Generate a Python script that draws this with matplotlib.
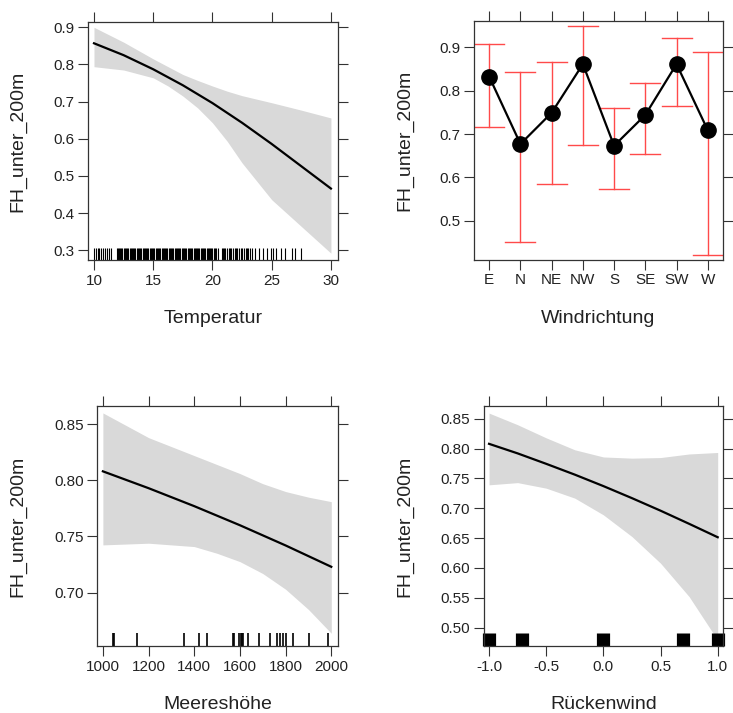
import numpy as np
import matplotlib
matplotlib.use('Agg')
import matplotlib.pyplot as plt
import matplotlib.transforms as mtransforms
from matplotlib.ticker import FormatStrFormatter

plt.rcParams['font.family'] = ['Liberation Sans', 'DejaVu Sans']

# Temperatur effect
temp_x = [10, 12.5, 15, 17.5, 20, 22.5, 25, 27.5, 30]
temp_fit = [0.857, 0.825, 0.787, 0.744, 0.696, 0.643, 0.586, 0.526, 0.466]
temp_band_x = [10, 12.5, 15, 16.25, 17.5, 18.75, 20, 21.25, 22.5, 25, 27.5, 30]
temp_upper = [0.900, 0.860, 0.815, 0.794, 0.773, 0.757, 0.742, 0.728, 0.716,
              0.697, 0.677, 0.656]
temp_lower = [0.794, 0.785, 0.764, 0.742, 0.715, 0.683, 0.643, 0.593, 0.535,
              0.436, 0.364, 0.292]
temp_rug = [10.0, 10.15, 10.3, 10.45, 10.6, 10.8, 10.95, 11.1, 11.3, 11.45,
            11.9, 12.0, 12.1, 12.2, 12.3, 12.4, 12.5, 12.6, 12.7, 12.8, 12.9,
            13.0, 13.1, 13.2, 13.3, 13.4, 13.5, 13.6, 13.7, 13.8, 13.9,
            14.0, 14.1, 14.2, 14.3, 14.4, 14.5, 14.6, 14.7, 14.8, 14.9,
            15.0, 15.1, 15.2, 15.3, 15.4, 15.5, 15.6, 15.7, 15.8, 15.9,
            16.0, 16.1, 16.2, 16.3, 16.4, 16.5, 16.6, 16.7, 16.8, 16.9,
            17.0, 17.1, 17.2, 17.3, 17.4, 17.5, 17.6, 17.7, 17.8, 17.9,
            18.0, 18.1, 18.2, 18.3, 18.4, 18.5, 18.6, 18.7, 18.8, 18.9,
            19.0, 19.1, 19.2, 19.3, 19.4, 19.5, 19.6, 19.7, 19.8, 19.9,
            20.0, 20.1, 20.2, 20.3, 20.45,
            20.8, 20.9, 21.0, 21.1, 21.25, 21.4, 21.5, 21.6, 21.75, 21.9,
            22.0, 22.1, 22.25, 22.4, 22.5, 22.65, 22.8, 22.9, 23.0, 23.15, 23.3,
            23.6, 23.9, 24.3, 24.6, 24.9, 25.1, 25.4, 25.8, 26.1, 26.7, 27.0, 27.5]

# Windrichtung effect
wind_dirs = ['E', 'N', 'NE', 'NW', 'S', 'SE', 'SW', 'W']
wind_fit = [0.832, 0.677, 0.749, 0.861, 0.673, 0.744, 0.861, 0.709]
wind_upper = [0.907, 0.843, 0.866, 0.948, 0.759, 0.818, 0.922, 0.890]
wind_lower = [0.717, 0.452, 0.585, 0.674, 0.573, 0.654, 0.764, 0.422]

# Meereshoehe effect
hoehe_x = [1000, 1200, 1400, 1600, 1800, 2000]
hoehe_fit = [0.808, 0.793, 0.777, 0.760, 0.742, 0.723]
hoehe_band_x = [1000, 1200, 1400, 1500, 1600, 1700, 1800, 1900, 2000]
hoehe_upper = [0.860, 0.838, 0.822, 0.814, 0.806, 0.797, 0.790, 0.785, 0.781]
hoehe_lower = [0.7425, 0.744, 0.741, 0.735, 0.7276, 0.717, 0.703, 0.685, 0.6638]
hoehe_rug = [1045, 1050, 1148, 1353, 1422, 1455, 1570, 1575, 1598, 1603,
             1608, 1613, 1635, 1685, 1730, 1762, 1777, 1789, 1802, 1831,
             1902, 1985]

# Rueckenwind effect
rueck_x = [-1.0, -0.75, -0.5, -0.25, 0.0, 0.25, 0.5, 0.75, 1.0]
rueck_fit = [0.808, 0.792, 0.7745, 0.7564, 0.7372, 0.717, 0.696, 0.674, 0.6515]
rueck_upper = [0.8595, 0.840, 0.818, 0.798, 0.786, 0.784, 0.785, 0.791, 0.7935]
rueck_lower = [0.7393, 0.743, 0.7337, 0.717, 0.689, 0.6526, 0.608, 0.552, 0.479]
rueck_rug = [-1.0, -0.71, 0.0, 0.70, 1.0]

BAND = '#d9d9d9'
EDGE = '#333333'
YLAB = 'FH_unter_200m'

fig = plt.figure(figsize=(7.33, 7.13), dpi=100)


def style_axes(ax, ylab_x, xlab):
    for sp in ax.spines.values():
        sp.set_color(EDGE)
        sp.set_linewidth(0.9)
    ax.tick_params(direction='out', top=True, right=True, labeltop=False,
                   labelright=False, length=7, width=0.8, color=EDGE,
                   labelcolor='#222222', labelsize=11, pad=3)
    ax.set_ylabel(YLAB, fontsize=14, color='#222222')
    ax.yaxis.label.set_va('center')
    ax.yaxis.set_label_coords(ylab_x, 0.5)
    ax.set_xlabel(xlab, fontsize=14, color='#222222')
    ax.xaxis.label.set_va('center')
    ax.xaxis.set_label_coords(0.5, -0.245)


def rug(ax, vals, height, lw):
    trans = mtransforms.blended_transform_factory(ax.transData, ax.transAxes)
    ax.vlines(vals, 0, height, colors='black', linewidth=lw,
              transform=trans, clip_on=False)


# top left
ax1 = fig.add_axes([0.120, 0.635, 0.341, 0.334])
ax1.fill_between(temp_band_x, temp_lower, temp_upper, color=BAND, linewidth=0)
ax1.plot(temp_x, temp_fit, color='black', lw=1.6)
rug(ax1, temp_rug, 0.05, 0.8)
ax1.set_xlim(9.49, 30.59)
ax1.set_ylim(0.273, 0.914)
ax1.set_xticks([10, 15, 20, 25, 30])
ax1.set_yticks([0.3, 0.4, 0.5, 0.6, 0.7, 0.8, 0.9])
style_axes(ax1, -0.28, 'Temperatur')

# top right
ax2 = fig.add_axes([0.647, 0.636, 0.339, 0.335])
pos = np.arange(1, len(wind_dirs) + 1)
for p, lo, hi in zip(pos, wind_lower, wind_upper):
    ax2.plot([p, p], [lo, hi], color='#ff4a4a', lw=1.0)
    ax2.plot([p - 0.48, p + 0.48], [lo, lo], color='#ff4a4a', lw=1.0)
    ax2.plot([p - 0.48, p + 0.48], [hi, hi], color='#ff4a4a', lw=1.0)
ax2.plot(pos, wind_fit, color='black', lw=1.6, marker='o', markersize=11)
ax2.set_xlim(0.52, 8.48)
ax2.set_ylim(0.411, 0.961)
ax2.set_xticks(pos)
ax2.set_xticklabels(wind_dirs)
ax2.set_yticks([0.5, 0.6, 0.7, 0.8, 0.9])
style_axes(ax2, -0.279, 'Windrichtung')

# bottom left
ax3 = fig.add_axes([0.133, 0.094, 0.328, 0.336])
ax3.fill_between(hoehe_band_x, hoehe_lower, hoehe_upper, color=BAND, linewidth=0)
ax3.plot(hoehe_x, hoehe_fit, color='black', lw=1.6)
rug(ax3, hoehe_rug, 0.053, 1.2)
ax3.set_xlim(976.4, 2029)
ax3.set_ylim(0.6525, 0.8658)
ax3.set_xticks([1000, 1200, 1400, 1600, 1800, 2000])
ax3.set_yticks([0.70, 0.75, 0.80, 0.85])
ax3.yaxis.set_major_formatter(FormatStrFormatter('%.2f'))
style_axes(ax3, -0.33, 'Meereshöhe')

# bottom right
ax4 = fig.add_axes([0.660, 0.094, 0.326, 0.336])
ax4.fill_between(rueck_x, rueck_lower, rueck_upper, color=BAND, linewidth=0)
ax4.plot(rueck_x, rueck_fit, color='black', lw=1.6)
rug(ax4, rueck_rug, 0.055, 9.5)
ax4.set_xlim(-1.046, 1.044)
ax4.set_ylim(0.4693, 0.8707)
ax4.set_xticks([-1.0, -0.5, 0.0, 0.5, 1.0])
ax4.set_yticks([0.50, 0.55, 0.60, 0.65, 0.70, 0.75, 0.80, 0.85])
ax4.xaxis.set_major_formatter(FormatStrFormatter('%.1f'))
ax4.yaxis.set_major_formatter(FormatStrFormatter('%.2f'))
style_axes(ax4, -0.331, 'Rückenwind')

fig.savefig('out.png', dpi=100)
plt.close(fig)
